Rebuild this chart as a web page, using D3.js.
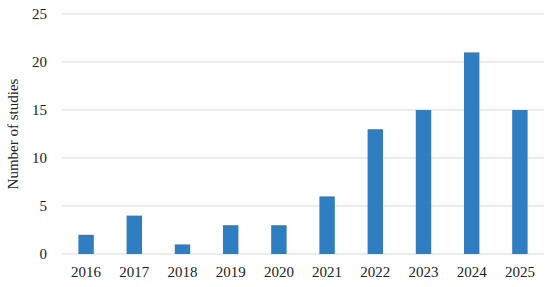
<!DOCTYPE html>
<html><head><meta charset="utf-8">
<script src="https://cdn.jsdelivr.net/npm/d3@7"></script>
<style>body{margin:0;background:#fff}svg{display:block}</style>
</head><body>
<script>
const categories = ["2016","2017","2018","2019","2020","2021","2022","2023","2024","2025"];
const values = [2,4,1,3,3,6,13,15,21,15];
const yTicks = [0,5,10,15,20,25];
const yTitle = "Number of studies";

const W=550,H=287;
const m={left:62,right:6,top:14,bottom:33};
const svg=d3.select("body").append("svg").attr("width",W).attr("height",H);
const x=d3.scaleBand().domain(categories).range([m.left,W-m.right]).paddingInner(0.68).paddingOuter(0.34);
const y=d3.scaleLinear().domain([0,25]).range([H-m.bottom,m.top]);
const font="'Liberation Serif', serif";

svg.append("g").selectAll("line").data(yTicks).join("line")
 .attr("x1",m.left).attr("x2",W-m.right)
 .attr("y1",d=>y(d)).attr("y2",d=>y(d))
 .attr("stroke","#d9d9d9").attr("stroke-width",1);

svg.append("g").selectAll("rect").data(values).join("rect")
 .attr("x",(d,i)=>x(categories[i])).attr("width",x.bandwidth())
 .attr("y",d=>y(d)).attr("height",d=>y(0)-y(d))
 .attr("fill","#2f7ec1");

const ya=svg.append("g").attr("transform",`translate(${m.left},0)`)
 .call(d3.axisLeft(y).tickValues(yTicks).tickSize(0).tickPadding(15));
ya.select(".domain").remove();
ya.selectAll("text").attr("font-family",font).attr("font-size",15).attr("fill","#222");

const xa=svg.append("g").attr("transform",`translate(0,${y(0)})`)
 .call(d3.axisBottom(x).tickSize(0).tickPadding(12));
xa.select(".domain").remove();
xa.selectAll("text").attr("font-family",font).attr("font-size",15).attr("fill","#222");

svg.append("text").attr("transform",`translate(18,${(y(0)+y(25))/2}) rotate(-90)`)
 .attr("text-anchor","middle").attr("font-family",font).attr("font-size",15).attr("fill","#222")
 .text(yTitle);
</script>
</body></html>
